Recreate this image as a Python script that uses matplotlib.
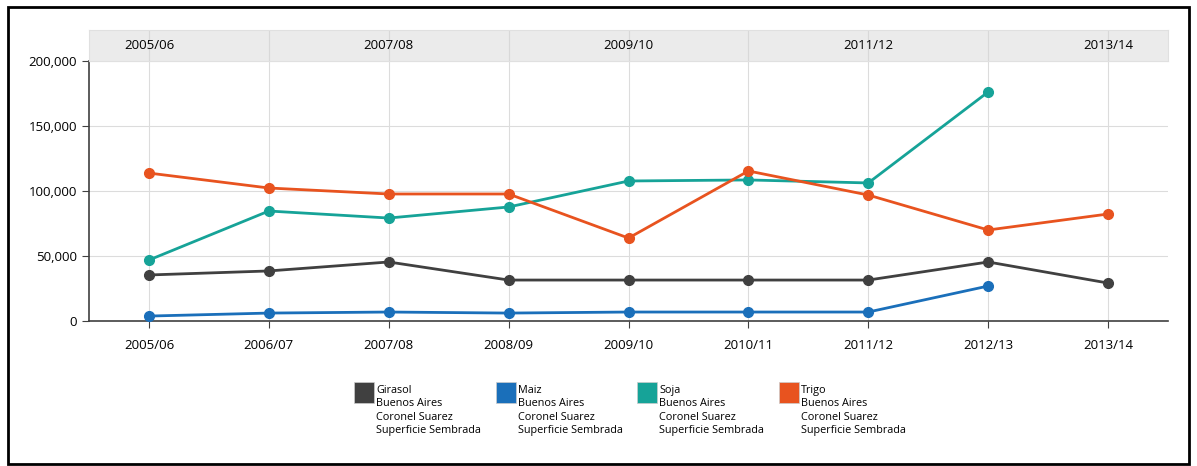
import matplotlib
matplotlib.use("Agg")
import matplotlib.pyplot as plt
from matplotlib.patches import Rectangle
from matplotlib.ticker import FuncFormatter
import numpy as np

# Data
campaigns = ["2005/06", "2006/07", "2007/08", "2008/09", "2009/10",
             "2010/11", "2011/12", "2012/13", "2013/14"]
girasol = [35400, 38500, 45400, 31500, 31500, 31500, 31500, 45400, 29200]
maiz = [3800, 6100, 6900, 6100, 6900, 6900, 6900, 26900, None]
soja = [46900, 84600, 79200, 87700, 107700, 108500, 106200, 176200, None]
trigo = [113800, 102300, 97700, 97700, 63800, 115400, 96900, 70000, 82300]
top_labels = ["2005/06", "2007/08", "2009/10", "2011/12", "2013/14"]

series = [
    ("Girasol", girasol, "#404040"),
    ("Maiz", maiz, "#1a6fba"),
    ("Soja", soja, "#16a398"),
    ("Trigo", trigo, "#e8531f"),
]
legend_sub = "Buenos Aires\nCoronel Suarez\nSuperficie Sembrada"

plt.rcParams['font.family'] = ['Open Sans', 'DejaVu Sans']

W, H = 1197, 466
fig = plt.figure(figsize=(W / 100, H / 100), dpi=100)

# outer border
fig.patches.append(Rectangle((8 / W, 2 / H), 1181 / W, 457 / H, transform=fig.transFigure,
                             fill=False, edgecolor="black", linewidth=2))

x0, x1 = 89 / W, 1168 / W
ax = fig.add_axes([x0, 1 - 321 / H, x1 - x0, 260 / H])
x = np.arange(len(campaigns))

for name, vals, col in series:
    xs = [i for i, v in zip(x, vals) if v is not None]
    ys = [v for v in vals if v is not None]
    ax.plot(xs, ys, color=col, linewidth=2, marker="o", markersize=7, zorder=3)

ax.set_xlim(-0.5, len(campaigns) - 0.5)
ax.set_ylim(0, 200000)
ax.set_xticks(x)
ax.set_xticklabels(campaigns, fontsize=9.5)
ax.set_yticks([0, 50000, 100000, 150000, 200000])
ax.yaxis.set_major_formatter(FuncFormatter(lambda v, p: f"{int(v):,}"))
ax.tick_params(axis="y", labelsize=9.5, length=5, color="#404040")
ax.tick_params(axis="x", length=5, color="#404040", pad=8)
ax.grid(True, color="#dcdcdc", linewidth=0.8)
ax.set_axisbelow(True)
for s in ["top", "right"]:
    ax.spines[s].set_visible(False)
for s in ["left", "bottom"]:
    ax.spines[s].set_color("#404040")
    ax.spines[s].set_linewidth(1.2)

# top band with alternate labels
bx = fig.add_axes([x0, 1 - 61 / H, x1 - x0, 31 / H])
bx.set_facecolor("#ebebeb")
bx.set_xlim(-0.5, len(campaigns) - 0.5)
bx.set_ylim(0, 1)
for i in x:
    bx.axvline(i, color="#d8d8d8", linewidth=0.8, zorder=0)
for lab in top_labels:
    bx.text(campaigns.index(lab), 0.5, lab, ha="center", va="center", fontsize=9.5)
bx.set_xticks([])
bx.set_yticks([])
for s in bx.spines.values():
    s.set_color("#e0e0e0")

# legend
lx = [354, 496, 637, 779]
for (name, vals, col), px in zip(series, lx):
    fig.patches.append(Rectangle((px / W, 1 - 403 / H), 20 / W, 21 / H,
                                 transform=fig.transFigure, facecolor=col,
                                 edgecolor="#cccccc", linewidth=0.5))
    fig.text((px + 22) / W, 1 - 385 / H, name + "\n" + legend_sub, fontsize=7.8,
             va="top", ha="left", linespacing=1.3)

fig.savefig("out.png", dpi=100)
